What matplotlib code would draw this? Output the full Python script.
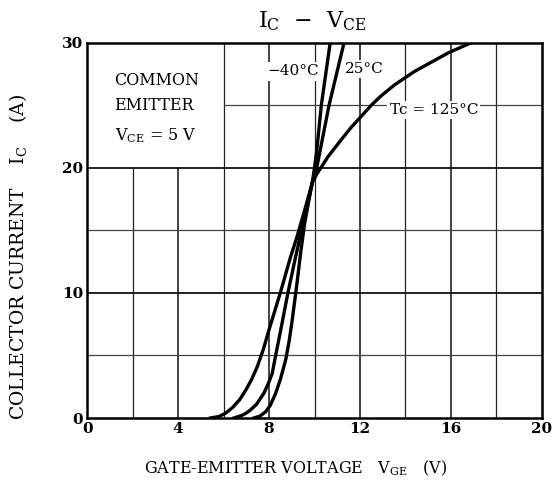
import matplotlib
matplotlib.use("Agg")
import matplotlib.pyplot as plt

plt.rcParams['font.family'] = 'DejaVu Serif'
plt.rcParams['mathtext.default'] = 'regular'

# I_C vs V_GE, V_CE = 5 V
vge_125 = [5.42, 5.8, 6.1, 6.4, 6.7, 7.0, 7.25, 7.48, 7.75, 7.99, 8.51, 8.95, 9.2, 9.55, 9.9,
           10.1, 10.35, 10.6, 10.9, 11.2, 11.6, 12.0, 12.5, 12.9, 13.5, 14.4, 15.2, 15.9, 16.9]
ic_125 = [0.0, 0.12, 0.4, 0.85, 1.45, 2.3, 3.15, 4.1, 5.5, 7.0, 10.1, 12.9, 14.3, 16.5, 18.8,
          19.5, 20.2, 20.9, 21.6, 22.3, 23.2, 24.0, 25.0, 25.7, 26.6, 27.7, 28.5, 29.2, 30.0]

vge_25 = [6.45, 6.8, 7.0, 7.18, 7.45, 7.77, 8.0, 8.14, 8.3, 8.51, 8.83, 9.17, 9.47, 9.9, 10.1,
          10.25, 10.64, 11.3]
ic_25 = [0.0, 0.2, 0.4, 0.64, 1.1, 1.97, 2.9, 3.57, 5.1, 7.0, 10.0, 12.9, 15.3, 18.8, 20.0,
         21.4, 25.0, 30.0]

vge_m40 = [7.33, 7.6, 7.85, 8.05, 8.29, 8.5, 8.73, 8.88, 9.02, 9.21, 9.39, 9.57, 9.9, 10.0,
           10.1, 10.3, 10.69]
ic_m40 = [0.0, 0.15, 0.5, 1.0, 1.97, 3.1, 4.64, 6.1, 7.84, 10.5, 13.2, 15.6, 18.8, 20.0,
          21.4, 25.0, 30.0]

x_ticks = [0, 4, 8, 12, 16, 20]
y_ticks = [0, 10, 20, 30]

W, H = 558, 484
fig = plt.figure(figsize=(W / 100, H / 100), dpi=100)
ax = fig.add_axes([87.3 / W, 1 - 418 / H, (541.7 - 87.3) / W, (418 - 42.7) / H])
ax.set_xlim(0, 20)
ax.set_ylim(0, 30)

# grid, drawn by hand because the condition box hides part of it
for gx in range(2, 20, 2):
    top = 20 if gx < 6 else 30
    lw = 1.2 if gx % 4 == 0 else 0.9
    ax.plot([gx, gx], [0, top], color='#222222', lw=lw, zorder=1)
for gy in [5, 10, 15, 20, 25]:
    left = 6 if gy > 20 else 0
    lw = 1.3 if gy % 10 == 0 else 0.9
    col = '#111111' if gy % 10 == 0 else '#444444'
    ax.plot([left, 20], [gy, gy], color=col, lw=lw, zorder=1)

for xs, ys in [(vge_125, ic_125), (vge_25, ic_25), (vge_m40, ic_m40)]:
    ax.plot(xs, ys, color='black', lw=2.4, zorder=3, solid_joinstyle='round')

lbl = dict(ha='center', va='center', fontsize=11, zorder=4,
           bbox=dict(facecolor='white', edgecolor='none', pad=1.5))
ax.text(9.05, 27.7, '\u221240\u00b0C', **lbl)
ax.text(12.2, 27.9, '25\u00b0C', **lbl)
ax.text(15.25, 24.6, 'Tc = 125\u00b0C', **lbl)

ax.text(1.2, 27.0, 'COMMON', fontsize=11.5, va='center', ha='left', zorder=4)
ax.text(1.2, 25.0, 'EMITTER', fontsize=11.5, va='center', ha='left', zorder=4)
ax.text(1.2, 22.6, 'V$_{CE}$ = 5 V', fontsize=11.5, va='center', ha='left', zorder=4)

for s in ax.spines.values():
    s.set_linewidth(1.8)
ax.set_xticks(x_ticks)
ax.set_yticks(y_ticks)
ax.tick_params(length=0, labelsize=11, pad=3)
for t in ax.get_xticklabels() + ax.get_yticklabels():
    t.set_fontweight('bold')

fig.text(312 / W, 1 - 21 / H, 'I$_{C}$  \u2212  V$_{CE}$', ha='center', va='center', fontsize=16)
fig.text(296 / W, 1 - 468 / H, 'GATE-EMITTER VOLTAGE   V$_{GE}$   (V)',
         ha='center', va='center', fontsize=11.5)
fig.text(18 / W, 1 - 257 / H, 'COLLECTOR CURRENT    I$_{C}$    (A)',
         ha='center', va='center', rotation=90, fontsize=13.5)

fig.savefig('out.png', dpi=100)
